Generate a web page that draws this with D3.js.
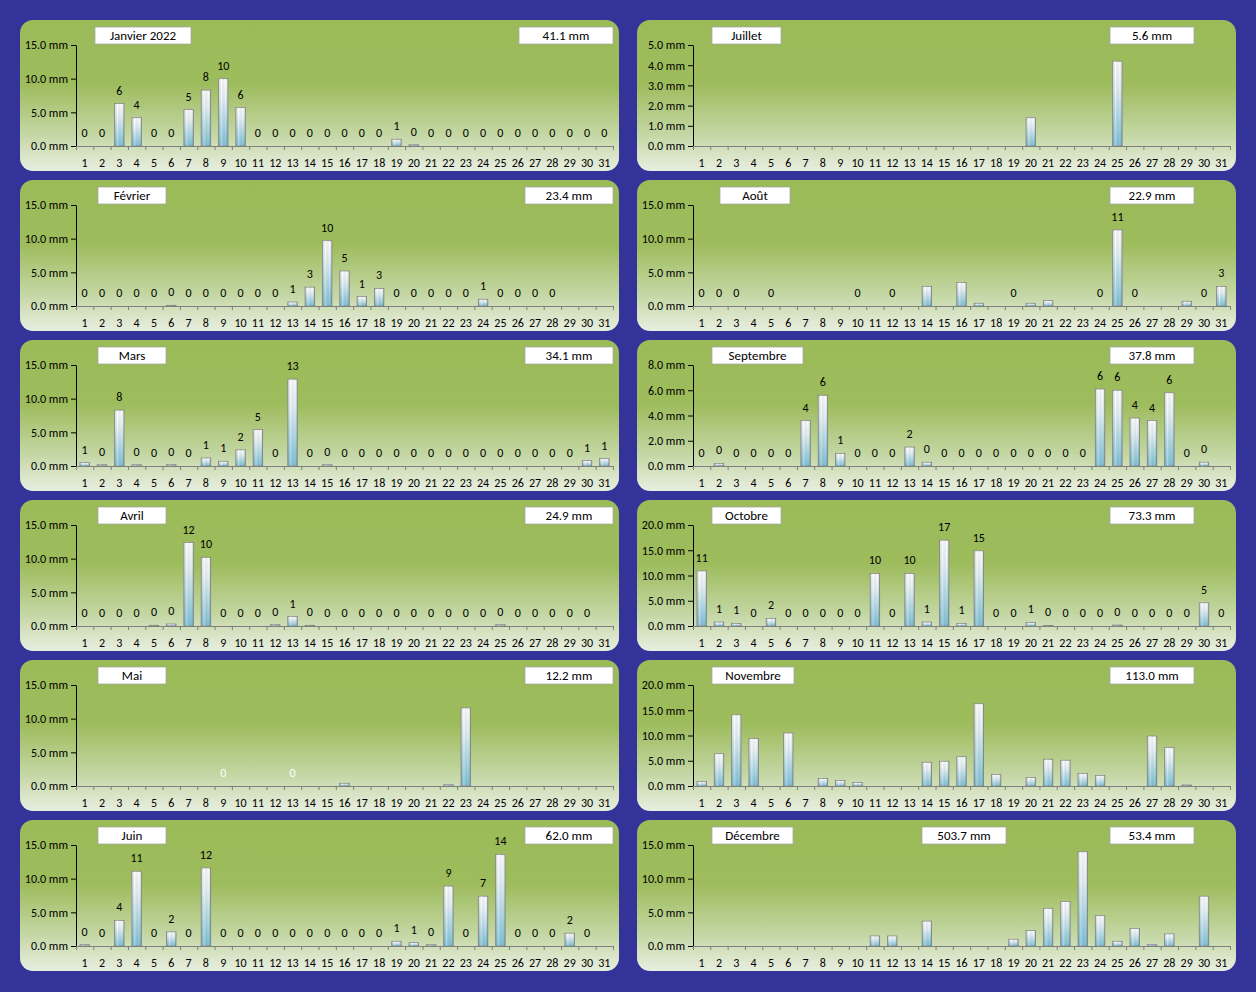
<!DOCTYPE html>
<html><head><meta charset="utf-8">
<script src="https://cdn.jsdelivr.net/npm/d3@7"></script>
<style>
html,body{margin:0;padding:0;background:#333399;}
svg{display:block;}
text{font-family:Calibri,Carlito,Lato,sans-serif;}
</style></head><body>
<svg id="c" width="1256" height="992"></svg>
<script>
// ---------------- DATA ----------------
const monthNames = ["Janvier 2022","Février","Mars","Avril","Mai","Juin","Juillet","Août","Septembre","Octobre","Novembre","Décembre"];
const days = d3.range(1, 32);
const dayLabels = days.map(String);

const janvier   = [0,0,6.3,4.2,0,0,5.4,8.3,10.0,5.7,0,0,0,0,0,0,0,0,1.0,0.2,0,0,0,0,0,0,0,0,0,0,0];
const fevrier   = [0,0,0,0,0,0.1,0,0,0,0,0,0,0.6,2.8,9.7,5.2,1.4,2.6,0,0,0,0,0,1.0,0,0,0,0,0,0,0];
const mars      = [0.5,0.2,8.3,0.2,0,0.2,0,1.2,0.7,2.4,5.4,0,12.9,0,0.2,0,0,0,0,0,0,0,0,0,0,0,0,0,0,0.8,1.1];
const avril     = [0,0,0,0,0.1,0.3,12.4,10.2,0,0,0,0.2,1.4,0.1,0,0,0,0,0,0,0,0,0,0,0.2,0,0,0,0,0,0];
const mai       = [0,0,0,0,0,0,0,0,0,0,0,0,0,0,0,0.4,0,0,0,0,0,0.2,11.6,0,0,0,0,0,0,0,0];
const juin      = [0.2,0,3.8,11.1,0,2.1,0,11.6,0,0,0,0,0,0,0,0,0,0,0.7,0.5,0.2,8.9,0,7.4,13.6,0,0,0,1.9,0,0];
const juillet   = [0,0,0,0,0,0,0,0,0,0,0,0,0,0,0,0,0,0,0,1.4,0,0,0,0,4.2,0,0,0,0,0,0];
const aout      = [0,0,0,0,0,0,0,0,0,0,0,0,0,2.9,0,3.5,0.4,0,0,0.4,0.8,0,0,0,11.3,0,0,0,0.7,0,2.9];
const septembre = [0,0.2,0,0,0,0,3.6,5.6,1.0,0,0,0,1.5,0.3,0,0,0,0,0,0,0,0,0,6.1,6.0,3.8,3.6,5.8,0,0.3,0];
const octobre   = [10.9,0.8,0.5,0,1.5,0,0,0,0,0,10.4,0,10.4,0.8,17.0,0.5,14.9,0,0,0.7,0.1,0,0,0,0.2,0,0,0,0,4.6,0];
const novembre  = [0.9,6.4,14.1,9.4,0,10.5,0,1.5,1.1,0.7,0,0,0,4.7,4.9,5.8,16.3,2.3,0,1.7,5.3,5.1,2.5,2.1,0,0,9.9,7.6,0.2,0,0];
const decembre  = [0,0,0,0,0,0,0,0,0,0,1.5,1.5,0,3.7,0,0,0,0,1.0,2.3,5.6,6.6,14.0,4.5,0.7,2.6,0.2,1.8,0,7.4,0];
const monthValues = [janvier,fevrier,mars,avril,mai,juin,juillet,aout,septembre,octobre,novembre,decembre];

// days that carry a data label
const labelDays = [
  d3.range(1,32), d3.range(1,29), d3.range(1,32), d3.range(1,31), [9,13], d3.range(1,31),
  [], [1,2,3,5,10,12,19,24,25,26,30,31], d3.range(1,31), d3.range(1,32), [], []
];
const yMax  = [15,15,15,15,15,15,5,15,8,20,20,15];
const yStep = [5,5,5,5,5,5,1,5,2,5,5,5];

// ---------------- LAYOUT ----------------
const labelColor = ["#000","#000","#000","#000","#fff","#000","#000","#000","#000","#000","#000","#000"];
const titleBox = [[75,96],[78,68],[78,68],[78,68],[78,68],[78,68],[75,69],[83,70],[75,91],[75,69],[75,82],[75,81]];
const totalBox = [[499,94],[505,88],[505,88],[505,88],[505,88],[505,88],[473,84],[473,84],[473,84],[473,84],[473,84],[473,84]];
const yearBox = [285,84];
const panelW = 599, panelH = 151;

const svg = d3.select("#c");
const defs = svg.append("defs");
const pg = defs.append("linearGradient").attr("id","panelGrad").attr("x1",0).attr("y1",0).attr("x2",0).attr("y2",1);
pg.append("stop").attr("offset","0").attr("stop-color","#9bbb59");
pg.append("stop").attr("offset","0.42").attr("stop-color","#9dbc5c");
pg.append("stop").attr("offset","0.75").attr("stop-color","#c3d6a2");
pg.append("stop").attr("offset","1").attr("stop-color","#e8eee0");
const bg = defs.append("linearGradient").attr("id","barGrad").attr("x1",0).attr("y1",0).attr("x2",0).attr("y2",1);
bg.append("stop").attr("offset","0").attr("stop-color","#ffffff");
bg.append("stop").attr("offset","0.3").attr("stop-color","#e6f3f7");
bg.append("stop").attr("offset","1").attr("stop-color","#7fc3d8");
const bh = defs.append("linearGradient").attr("id","barShade").attr("x1",0).attr("y1",0).attr("x2",1).attr("y2",0);
bh.append("stop").attr("offset","0").attr("stop-color","#000").attr("stop-opacity",0.12);
bh.append("stop").attr("offset","0.3").attr("stop-color","#fff").attr("stop-opacity",0.25);
bh.append("stop").attr("offset","0.75").attr("stop-color","#000").attr("stop-opacity",0);
bh.append("stop").attr("offset","1").attr("stop-color","#000").attr("stop-opacity",0.18);

const fmtTick = d => d3.format(".1f")(d) + " mm";
const fmtTotal = v => v.toFixed(1) + " mm";
const yearTotal = d3.sum(monthValues.map(v => d3.sum(v)));

monthValues.forEach((vals, m) => {
  const col = m < 6 ? 0 : 1, row = m % 6;
  const px = col === 0 ? 20 : 637, py = 20 + 160 * row;
  const g = svg.append("g").attr("transform", `translate(${px},${py})`);
  g.append("rect").attr("width", panelW).attr("height", panelH).attr("rx", 13).attr("ry", 13)
    .attr("fill", "url(#panelGrad)");

  const left = 56, right = 593, top = 25, bottom = 126;
  const x = d3.scaleBand().domain(days).range([left, right]).paddingInner(0.45).paddingOuter(0.225);
  const xi = d3.scaleLinear().domain([0, 31]).range([left, right]);
  const y = d3.scaleLinear().domain([0, yMax[m]]).range([bottom, top]);

  // bars
  const data = days.map((d, i) => ({day: d, v: vals[i]}));
  g.append("g").selectAll("rect").data(data.filter(d => d.v > 0)).join("rect")
    .attr("x", d => x(d.day)).attr("width", x.bandwidth())
    .attr("y", d => y(d.v)).attr("height", d => bottom - y(d.v))
    .attr("fill", "url(#barGrad)").attr("stroke", "#8a8a8a").attr("stroke-width", 0.8);
  g.append("g").selectAll("rect").data(data.filter(d => d.v > 0)).join("rect")
    .attr("x", d => x(d.day)).attr("width", x.bandwidth())
    .attr("y", d => y(d.v)).attr("height", d => bottom - y(d.v))
    .attr("fill", "url(#barShade)");

  // y axis
  const ya = g.append("g").attr("transform", `translate(${left},0)`)
    .call(d3.axisLeft(y).tickValues(d3.range(0, yMax[m] + 0.001, yStep[m])).tickFormat(fmtTick).tickSize(5).tickSizeOuter(0).tickPadding(3));
  ya.selectAll("path,line").attr("stroke", "#000").attr("stroke-width", 1);
  ya.selectAll("text").attr("font-size", 12).attr("fill", "#000").style("font-family","Calibri,Carlito,Lato,sans-serif");

  // x axis: line + boundary ticks
  const xa = g.append("g").attr("transform", `translate(0,${bottom})`)
    .call(d3.axisBottom(xi).tickValues(d3.range(0, 32)).tickFormat("").tickSize(4).tickSizeOuter(0));
  xa.selectAll("path,line").attr("stroke", "#7f7f7f").attr("stroke-width", 1);
  // x labels at category centers
  const xl = g.append("g").attr("transform", `translate(0,${bottom})`)
    .call(d3.axisBottom(x).tickFormat((d, i) => dayLabels[i]).tickSize(0).tickPadding(12));
  xl.select(".domain").remove();
  xl.selectAll("text").attr("font-size", 12).attr("fill", "#000").style("font-family","Calibri,Carlito,Lato,sans-serif");

  // data labels
  g.append("g").selectAll("text").data(data.filter(d => labelDays[m].includes(d.day))).join("text")
    .attr("x", d => x(d.day) + x.bandwidth()/2).attr("y", d => y(d.v) - 9)
    .attr("text-anchor", "middle").attr("font-size", 12).attr("fill", labelColor[m])
    .text(d => Math.round(d.v));

  // title box
  const tb = titleBox[m];
  g.append("rect").attr("x", tb[0]).attr("y", 7).attr("width", tb[1]).attr("height", 17)
    .attr("fill", "#fff").attr("stroke", "#a6a6a6").attr("stroke-width", 0.75);
  g.append("text").attr("x", tb[0] + tb[1]/2).attr("y", 20).attr("text-anchor", "middle")
    .attr("font-size", 13).attr("fill", "#000").text(monthNames[m]);

  // total box
  const ob = totalBox[m];
  g.append("rect").attr("x", ob[0]).attr("y", 7).attr("width", ob[1]).attr("height", 17)
    .attr("fill", "#fff").attr("stroke", "#a6a6a6").attr("stroke-width", 0.75);
  g.append("text").attr("x", ob[0] + ob[1]/2).attr("y", 20).attr("text-anchor", "middle")
    .attr("font-size", 13).attr("fill", "#000").text(fmtTotal(d3.sum(vals)));

  if (m === 11) {
    g.append("rect").attr("x", yearBox[0]).attr("y", 7).attr("width", yearBox[1]).attr("height", 17)
      .attr("fill", "#fff").attr("stroke", "#a6a6a6").attr("stroke-width", 0.75);
    g.append("text").attr("x", yearBox[0] + yearBox[1]/2).attr("y", 20).attr("text-anchor", "middle")
      .attr("font-size", 13).attr("fill", "#000").text(fmtTotal(yearTotal));
  }
});
</script></body></html>
